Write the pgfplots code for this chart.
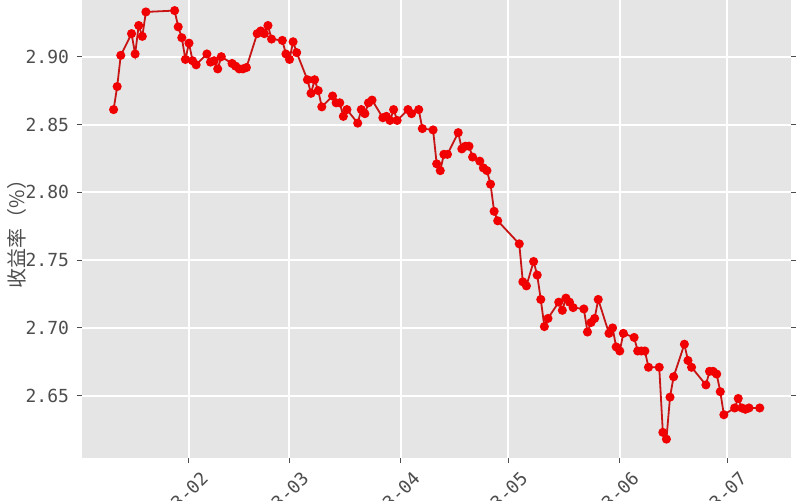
\documentclass[border=0pt]{standalone}
\usepackage{pgfplots}
\pgfplotsset{compat=1.18}
\usepackage{fontspec}
\setmainfont{DejaVu Sans Mono}
\newfontfamily\cjk{Noto Sans CJK SC}
\definecolor{panel}{HTML}{E5E5E5}
\definecolor{txt}{HTML}{4D4D4D}
\definecolor{ln}{HTML}{C81414}
\definecolor{pt}{HTML}{F00000}
\begin{document}
\begin{tikzpicture}
\begin{axis}[
  scale only axis,
  width=354.5pt, height=229pt,
  xmin=1.2, xmax=198.7,
  ymin=2.6041, ymax=2.9418,
  axis background/.style={fill=panel},
  axis line style={draw=none},
  grid=major,
  major grid style={white, line width=1pt},
  tick align=outside,
  major tick length=2.5pt,
  tick style={color=txt, line width=0.5pt},
  ytick={2.65,2.70,2.75,2.80,2.85,2.90},
  yticklabels={2.65,2.70,2.75,2.80,2.85,2.90},
  xtick={31,59,90,120,151,181},
  xticklabels={2023-02,2023-03,2023-04,2023-05,2023-06,2023-07},
  ticklabel style={font=\fontsize{9}{10}\selectfont, color=txt},
  yticklabel style={xshift=-0.5pt},
  xticklabel style={anchor=east, inner sep=0pt, xshift=8pt, yshift=-6pt, rotate=45},
  ylabel={\cjk 收益率（\%）},
  ylabel style={at={(axis description cs:-0.0917,0.5)}, anchor=center, font=\fontsize{10}{12}\selectfont, color=txt},
  clip=false,
]
\addplot[color=ln, line width=0.9pt, mark=*, mark size=1.8pt,
  mark options={fill=pt, draw=pt}] coordinates {
(10,2.861)(11,2.878)(12,2.901)(15,2.917)(16,2.902)(17,2.923)(18,2.915)(19,2.933)
(27,2.934)(28,2.922)(29,2.914)(30,2.898)(31,2.910)(32,2.897)(33,2.894)
(36,2.902)(37,2.896)(38,2.897)(39,2.891)(40,2.900)
(43,2.895)(44,2.893)(45,2.891)(46,2.891)(47,2.892)
(50,2.917)(51,2.919)(52,2.917)(53,2.923)(54,2.913)
(57,2.912)(58,2.902)(59,2.898)(60,2.911)(61,2.903)
(64,2.883)(65,2.873)(66,2.883)(67,2.875)(68,2.863)
(71,2.871)(72,2.866)(73,2.866)(74,2.856)(75,2.861)
(78,2.851)(79,2.861)(80,2.858)(81,2.866)(82,2.868)
(85,2.855)(86,2.856)(87,2.853)(88,2.861)(89,2.853)
(92,2.861)(93,2.858)(95,2.861)(96,2.847)
(99,2.846)(100,2.821)(101,2.816)(102,2.828)(103,2.828)
(106,2.844)(107,2.832)(108,2.834)(109,2.834)(110,2.826)
(112,2.823)(113,2.818)(114,2.816)(115,2.806)(116,2.786)(117,2.779)
(123,2.762)(124,2.734)(125,2.731)
(127,2.749)(128,2.739)(129,2.721)(130,2.701)(131,2.707)
(134,2.719)(135,2.713)(136,2.722)(137,2.719)(138,2.715)
(141,2.714)(142,2.697)(143,2.704)(144,2.707)(145,2.721)
(148,2.696)(149,2.700)(150,2.686)(151,2.683)(152,2.696)
(155,2.693)(156,2.683)(157,2.683)(158,2.683)(159,2.671)
(162,2.671)(163,2.623)(164,2.618)(165,2.649)(166,2.664)
(169,2.688)(170,2.676)(171,2.671)
(175,2.658)(176,2.668)(177,2.668)(178,2.666)(179,2.653)(180,2.636)
(183,2.641)(184,2.648)(185,2.641)(186,2.640)(187,2.641)
(190,2.641)
};
\end{axis}
\pgfresetboundingbox
\path[use as bounding box] (-41pt,-21pt) rectangle (359pt,229pt);
\end{tikzpicture}
\end{document}
